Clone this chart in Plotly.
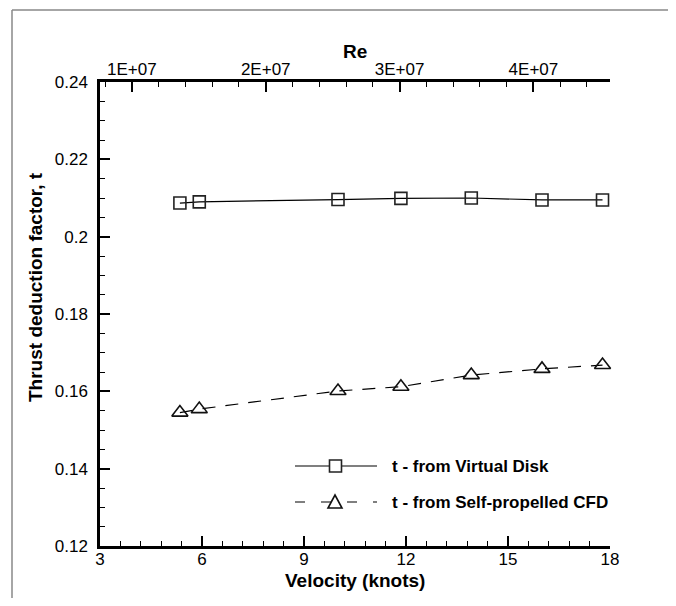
import numpy as np
import plotly.graph_objects as go

# ---- data ----
velocity = [5.35, 5.92, 10.0, 11.85, 13.92, 16.0, 17.78]
t_virtual_disk = [0.2087, 0.2090, 0.2096, 0.2099, 0.2100, 0.2095, 0.2095]
t_self_propelled = [0.1545, 0.1554, 0.1601, 0.1612, 0.1642, 0.1658, 0.1668]
re_per_knot = 2.54e6
x_ticks = [3, 6, 9, 12, 15, 18]
y_ticks = [0.12, 0.14, 0.16, 0.18, 0.20, 0.22, 0.24]
y_ticklabels = ["0.12", "0.14", "0.16", "0.18", "0.2", "0.22", "0.24"]
re_ticks = [1e7, 2e7, 3e7, 4e7]
re_ticklabels = ["1E+07", "2E+07", "3E+07", "4E+07"]
series_names = ["t - from Virtual Disk", "t - from Self-propelled CFD"]

OFF = 8  # default page body margin
W, H = 676 - 2 * OFF, 606 - 2 * OFF
L, T = 100 - OFF, 82 - OFF
R, B = W - (610 - OFF), H - (546 - OFF)
FONT = "Liberation Sans, Arial, sans-serif"

def px(x):  # page pixel -> paper x
    return (x - OFF - L) / (W - L - R)

def py(y):  # page pixel -> paper y
    return (H - B - (y - OFF)) / (H - T - B)

fig = go.Figure()
fig.add_trace(go.Scatter(
    x=velocity, y=t_virtual_disk, mode="lines+markers", name=series_names[0],
    line=dict(color="black", width=1.2),
    marker=dict(symbol="square-open", size=12, color="#222", line=dict(width=1.6, color="#222")),
    showlegend=False, cliponaxis=False))
fig.add_trace(go.Scatter(
    x=velocity, y=t_self_propelled, mode="lines+markers", name=series_names[1],
    line=dict(color="black", width=1.2, dash="13px,10px"),
    marker=dict(symbol="triangle-up-open", size=14, color="#111", line=dict(width=1.6, color="#111")),
    showlegend=False, cliponaxis=False))
# invisible trace to activate the Reynolds-number top axis
re_values = [v * re_per_knot for v in velocity]
fig.add_trace(go.Scatter(x=re_values, y=t_virtual_disk, xaxis="x2", mode="markers",
                         marker=dict(opacity=0), hoverinfo="skip", showlegend=False))

axis_common = dict(showline=True, linecolor="black", linewidth=2.5, showgrid=False,
                   zeroline=False, ticks="inside", ticklen=10, tickwidth=2, tickcolor="black",
                   tickfont=dict(family=FONT, size=17, color="black"))

fig.update_layout(
    width=W, height=H, margin=dict(l=L, r=R, t=T, b=B),
    paper_bgcolor="white", plot_bgcolor="white",
    xaxis=dict(range=[3, 18], tickvals=x_ticks, **axis_common, ticklabelstandoff=-4,
               minor=dict(tick0=3, dtick=0.6, ticklen=5, tickwidth=1, tickcolor="black",
                          ticks="inside", showgrid=False)),
    xaxis2=dict(range=[3 * re_per_knot, 18 * re_per_knot], overlaying="x", side="top",
                anchor="y", tickvals=re_ticks, ticktext=re_ticklabels, **axis_common,
                ticklabelstandoff=-3,
                minor=dict(tickvals=list(np.arange(0, 5e7, 2e6)), ticklen=5, tickwidth=1,
                           tickcolor="black", ticks="inside", showgrid=False)),
    yaxis=dict(range=[0.12, 0.24], tickvals=y_ticks, ticktext=y_ticklabels, **axis_common,
               ticklabelstandoff=6,
               minor=dict(tickvals=list(np.arange(0.12, 0.2401, 0.005)), ticklen=5, tickwidth=1,
                          tickcolor="black", ticks="inside", showgrid=False)),
    showlegend=False,
)

def text(s, x, y, size, xanchor="center", angle=0):
    return dict(text=s, x=px(x), y=py(y), xref="paper", yref="paper", showarrow=False,
                xanchor=xanchor, yanchor="middle", textangle=angle,
                font=dict(family=FONT, size=size, color="black"))

ann = [
    text("<b>Velocity (knots)</b>", 355, 580, 19),
    text("<b>Re</b>", 355, 52, 19),
    text("<b>Thrust deduction factor, t</b>", 35, 287, 19, angle=-90),
]

# legend drawn as decoration
rows = [466, 502]
shapes = []
# frame lines
shapes.append(dict(type="line", xref="paper", yref="paper", x0=px(12), x1=px(676), y0=py(10), y1=py(10),
                   line=dict(color="#888", width=1.5)))
shapes.append(dict(type="line", xref="paper", yref="paper", x0=px(12), x1=px(12), y0=py(10), y1=py(606),
                   line=dict(color="#888", width=1.5)))
# row 1 solid line + square
shapes.append(dict(type="line", xref="paper", yref="paper", x0=px(295), x1=px(377), y0=py(rows[0]), y1=py(rows[0]),
                   line=dict(color="black", width=1.2)))
shapes.append(dict(type="rect", xref="paper", yref="paper", x0=px(329.5), x1=px(341.5),
                   y0=py(rows[0] - 6), y1=py(rows[0] + 6), fillcolor="white",
                   line=dict(color="#222", width=1.6)))
# row 2 dashed line + triangle
shapes.append(dict(type="line", xref="paper", yref="paper", x0=px(295), x1=px(377), y0=py(rows[1]), y1=py(rows[1]),
                   line=dict(color="black", width=1.2, dash="10px,16px")))
tri = "M {} {} L {} {} L {} {} Z".format(px(328), py(rows[1] + 6), px(342), py(rows[1] + 6), px(335), py(rows[1] - 7))
shapes.append(dict(type="path", xref="paper", yref="paper", path=tri, fillcolor="white",
                   line=dict(color="#111", width=1.6)))
for r, name in zip(rows, series_names):
    ann.append(text("<b>" + name + "</b>", 390, r, 17, xanchor="left"))

fig.update_layout(annotations=ann, shapes=shapes)
fig.write_html("out.html")
